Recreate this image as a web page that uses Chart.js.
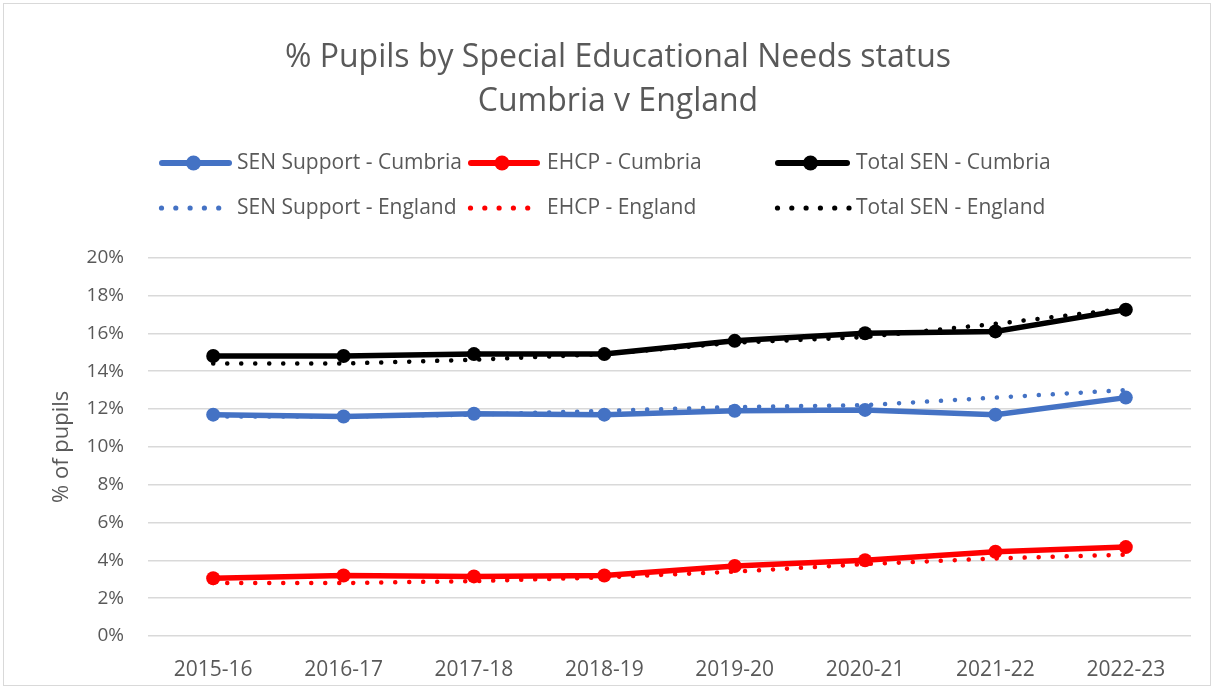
<!DOCTYPE html>
<html>
<head>
<meta charset="utf-8">
<script src="https://cdn.jsdelivr.net/npm/chart.js@4"></script>
<style>
  html, body { margin: 0; padding: 0; background: #fff; }
  #wrap { position: absolute; left: 0; top: 0; width: 1216px; height: 689px; }
  #frame { position: absolute; left: 3px; top: 3px; width: 1208px; height: 683px; border: 1px solid #d9d9d9; box-sizing: border-box; pointer-events: none; }
</style>
</head>
<body>
<div id="wrap">
  <canvas id="myChart" width="1216" height="689"></canvas>
  <div id="frame"></div>
</div>
<script>
var years = ['2015-16', '2016-17', '2017-18', '2018-19', '2019-20', '2020-21', '2021-22', '2022-23'];
var supportCumbria = [11.7, 11.6, 11.75, 11.7, 11.9, 11.95, 11.7, 12.6];
var ehcpCumbria = [3.05, 3.2, 3.15, 3.2, 3.7, 4.0, 4.45, 4.7];
var totalCumbria = [14.8, 14.8, 14.9, 14.9, 15.6, 16.0, 16.1, 17.25];
var supportEngland = [11.6, 11.6, 11.7, 11.9, 12.1, 12.2, 12.6, 13.0];
var ehcpEngland = [2.8, 2.8, 2.9, 3.1, 3.4, 3.8, 4.1, 4.3];
var totalEngland = [14.4, 14.4, 14.6, 14.9, 15.5, 15.8, 16.5, 17.3];
var yTicks = [0, 2, 4, 6, 8, 10, 12, 14, 16, 18, 20];

var BLUE = '#4472c4', RED = '#ff0000', BLACK = '#000000', GREY = '#595959';
var FONT = '"Open Sans", Lato, sans-serif';

function solid(label, data, colour) {
    return {
        label: label, data: data,
        borderColor: colour, backgroundColor: colour,
        borderWidth: 5.5, pointRadius: 7, pointHoverRadius: 7,
        pointBackgroundColor: colour, pointBorderWidth: 0,
        tension: 0
    };
}
function dotted(label, data, colour) {
    return {
        label: label, data: data,
        borderColor: colour, backgroundColor: colour,
        borderWidth: 4.5, borderDash: [0.1, 13.9], borderCapStyle: 'round',
        pointRadius: 0, tension: 0
    };
}

// legend laid out like the original: 2 rows x 3 columns
var legendBoxes = {
    id: 'legendBoxes',
    afterDraw: function (chart) {
        var c = chart.ctx;
        var cols = [[159, 232, 237], [468, 540, 547], [775, 850, 856]];
        var dots = [5, 5, 6];
        var rows = [163, 208];
        chart.data.datasets.forEach(function (ds, i) {
            var col = cols[i % 3], y = rows[Math.floor(i / 3)];
            c.save();
            c.fillStyle = ds.borderColor;
            c.strokeStyle = ds.borderColor;
            if (!ds.borderDash) {
                c.lineWidth = 6;
                c.lineCap = 'round';
                c.beginPath();
                c.moveTo(col[0] + 3, y);
                c.lineTo(col[1] - 3, y);
                c.stroke();
                c.beginPath();
                c.arc((col[0] + col[1]) / 2 - 2, y, 7.5, 0, Math.PI * 2);
                c.fill();
            } else {
                for (var k = 0; k < dots[i % 3]; k++) {
                    c.beginPath();
                    c.arc(col[0] + 2.5 + k * 14.3, y, 2.6, 0, Math.PI * 2);
                    c.fill();
                }
            }
            c.fillStyle = GREY;
            c.font = '21px ' + FONT;
            c.textBaseline = 'middle';
            c.fillText(ds.label, col[2], y);
            c.restore();
        });
    }
};

var ctx = document.getElementById('myChart').getContext('2d');
var myChart = new Chart(ctx, {
    type: 'line',
    data: {
        labels: years,
        datasets: [
            solid('SEN Support - Cumbria', supportCumbria, BLUE),
            solid('EHCP - Cumbria', ehcpCumbria, RED),
            solid('Total SEN - Cumbria', totalCumbria, BLACK),
            dotted('SEN Support - England', supportEngland, BLUE),
            dotted('EHCP - England', ehcpEngland, RED),
            dotted('Total SEN - England', totalEngland, BLACK)
        ]
    },
    options: {
        responsive: false,
        animation: false,
        layout: { padding: { left: 45, right: 25, top: 0, bottom: 0 } },
        plugins: {
            legend: { display: false },
            tooltip: { enabled: false },
            title: {
                display: true,
                text: ['% Pupils by Special Educational Needs status', 'Cumbria v England'],
                color: GREY,
                font: { family: FONT, size: 32, weight: 'normal', lineHeight: 1.4 },
                padding: { top: 35, bottom: 133 }
            }
        },
        scales: {
            x: {
                offset: true,
                afterFit: function (axis) { axis.height = 53; },
                grid: { display: false },
                border: { display: false },
                ticks: { color: GREY, font: { family: FONT, size: 21 }, padding: 13, maxRotation: 0 }
            },
            y: {
                min: 0, max: 20,
                afterBuildTicks: function (axis) {
                    axis.ticks = yTicks.map(function (v) { return { value: v }; });
                },
                afterFit: function (axis) { axis.width = 103; },
                grid: { color: '#d9d9d9', lineWidth: 1.5, drawTicks: false },
                border: { display: false },
                ticks: {
                    color: GREY, font: { family: FONT, size: 19 }, padding: 24,
                    callback: function (v) { return v + '%'; }
                },
                title: {
                    display: true, text: '% of pupils', color: GREY,
                    font: { family: FONT, size: 22 }, padding: { top: 4, bottom: 0 }
                }
            }
        }
    },
    plugins: [legendBoxes]
});
</script>
</body>
</html>
